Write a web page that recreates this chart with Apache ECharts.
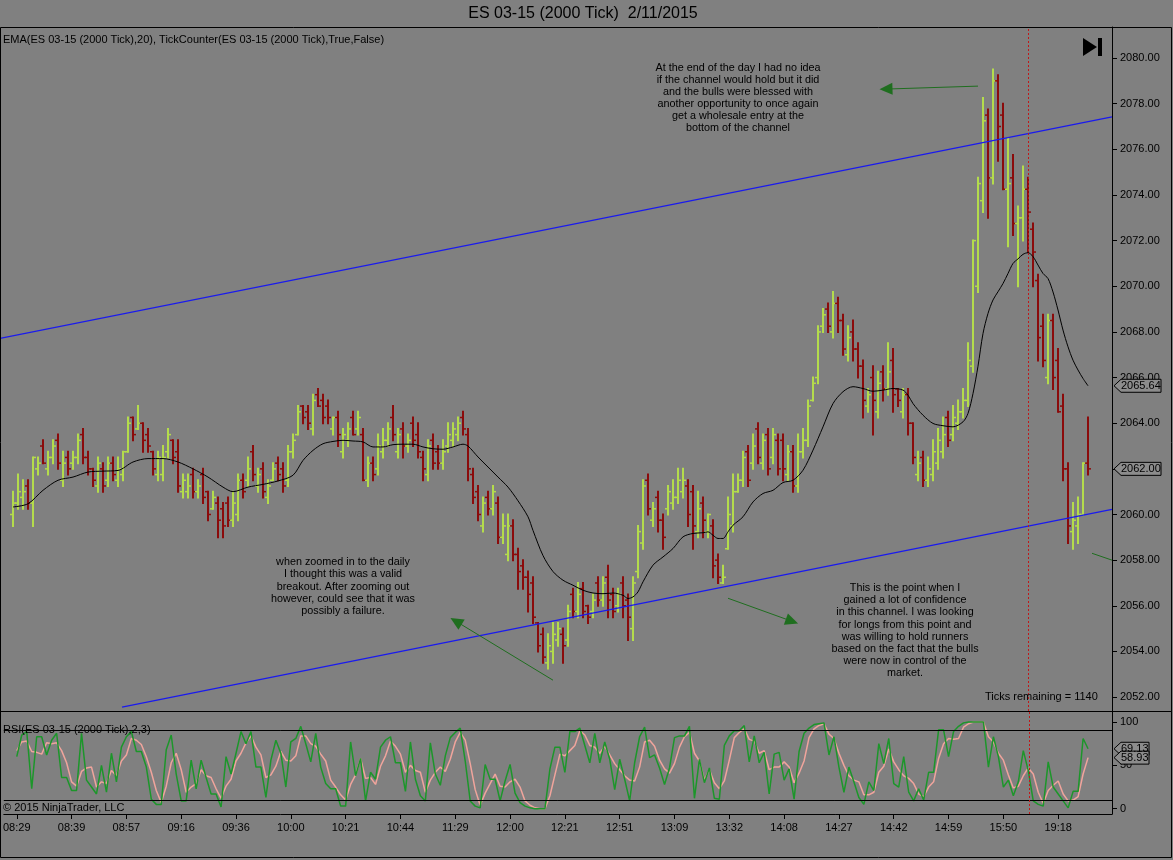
<!DOCTYPE html>
<html>
<head>
<meta charset="utf-8">
<title>ES 03-15 (2000 Tick) 2/11/2015</title>
<script src="https://cdn.jsdelivr.net/npm/echarts@6.0.0/dist/echarts.min.js"></script>
<style>
  html, body { margin: 0; padding: 0; background: #808080; }
  #chart { width: 1173px; height: 860px; }
</style>
</head>
<body>
<div id="chart"></div>
<script>
// ---- data (bar index = position in the session) ----
var opens = [
  2060,2060.5,2060.75,2061.25,2060.5,2062,2063,2062,2062.5,2063.25,
  2061.5,2062.5,2062.25,2062.5,2063.5,2062.5,2062,2061.25,2062,2061.5,
  2062.25,2061.5,2061.75,2062.75,2064.25,2063.75,2064,2063.5,2062.75,2061.75,
  2061.75,2062.75,2063.25,2062.75,2061,2061,2061.75,2061,2061.75,2061,
  2060.25,2060.5,2060.25,2060.5,2059.75,2060,2061.5,2061.5,2062.75,2061.25,
  2062,2060.75,2061.5,2062.25,2062,2061.5,2062.75,2063.5,2064.75,2064.5,
  2063.75,2065.25,2065,2064.75,2063.75,2064.25,2062.75,2063.25,2064.25,2063.75,
  2063.5,2061.5,2062.25,2062,2062.75,2063.25,2064.25,2062.75,2063.75,2063,
  2064,2063.5,2062.5,2061.75,2063.25,2062.75,2062.25,2063,2063.25,2063.5,
  2064.25,2063.5,2061.75,2061,2059.5,2060.75,2060.25,2060.5,2059,2058.25,
  2059.5,2058.25,2057.75,2057.25,2057,2055.25,2054.75,2053.5,2054,2054.5,
  2054.75,2054.5,2056.5,2055.75,2056.75,2056,2055.75,2057,2056.25,2057.25,
  2056.5,2056,2057,2056.25,2055,2057.5,2058.75,2061.5,2059.75,2060.75,
  2059.75,2060.25,2060.5,2060.75,2061,2061.25,2061,2059.25,2060.5,2059.25,
  2059.5,2058,2057,2058.5,2059.5,2061,2061.5,2062.75,2062.25,2063.75,
  2062.25,2063.5,2062.5,2063.25,2063.25,2061.75,2062.75,2061.25,2062.75,2063.25,
  2065,2066,2068.25,2069,2068,2069.25,2068.5,2067,2068,2067.25,
  2066.5,2064.75,2066,2064.5,2066.25,2065.5,2066.75,2065.5,2064.5,2065.25,
  2064,2061.75,2062.5,2061.5,2061.75,2062.25,2062.75,2064.25,2063.5,2064,
  2064.5,2065,2066.5,2070,2073.75,2077.5,2074.75,2079,2077.5,2074.25,
  2074.75,2072.75,2073,2074.25,2072.5,2070.25,2068.25,2066,2068.5,2066.75,
  2064.75,2062,2059.25,2059.5,2060,2062.25
];
var highs = [
  2061,2061.75,2061.5,2061.5,2062.5,2062.5,2063.25,2062.75,2063.25,2063.5,
  2062.75,2062.75,2062.75,2063.5,2063.75,2062.75,2062,2062.5,2062.25,2062.5,
  2062.5,2062.5,2062.75,2064.25,2064.25,2064.75,2064,2063.75,2062.75,2062.75,
  2063,2063.75,2063.25,2063.25,2061.75,2061.75,2062,2061.5,2062,2061,
  2061,2060.75,2060.5,2060.75,2061,2061.75,2061.75,2062.5,2063,2062,
  2062.25,2061.5,2062.25,2062.5,2062.25,2063,2063.5,2064.75,2064.75,2064.75,
  2065.25,2065.5,2065.25,2065,2064.25,2064.5,2063.75,2064,2064.5,2064.5,
  2063.75,2062.5,2062.5,2063.5,2063.75,2064,2064.75,2063.75,2064,2063.5,
  2064.25,2064,2062.75,2063.25,2063.5,2063,2063.25,2064,2064,2064.25,
  2064.5,2063.75,2062,2061.25,2060.75,2061,2061.25,2060.75,2060,2060,
  2059.75,2058.5,2058,2057.5,2057.25,2055.25,2055,2054.75,2055.25,2055.25,
  2055,2056,2056.75,2057,2057,2056,2056.5,2057.25,2057.25,2057.75,
  2056.75,2056.75,2057.25,2056.5,2057.25,2059.5,2061.5,2061.75,2060.5,2061,
  2060,2061.25,2061.5,2062,2062,2061.5,2061.25,2061,2060.75,2060,
  2059.75,2058.25,2057.75,2060.75,2061.75,2061.75,2062.75,2063,2063.5,2064,
  2063.5,2063.75,2063.75,2063.5,2063.5,2063,2063,2063.5,2063.75,2065,
  2066,2068.25,2069,2069.25,2069.75,2069.5,2068.75,2068.25,2068.5,2067.5,
  2066.75,2065.5,2066.5,2066.25,2066.5,2067.5,2067.25,2065.5,2065.5,2065.5,
  2064,2062.75,2062.75,2062.5,2063.25,2063.75,2064.25,2064.5,2064.75,2065,
  2065.5,2067.5,2072,2074.75,2078.25,2077.75,2079.5,2079.25,2078,2076.5,
  2075.75,2073.5,2075.25,2074.75,2072.75,2070.5,2068.75,2068.75,2068.75,2067.25,
  2065.25,2062.25,2060.5,2060.75,2062.25,2064.25
];
var lows = [
  2059.5,2060.25,2060.25,2060.25,2059.5,2061.75,2062.25,2061.75,2062.25,2062,
  2061.25,2061.75,2062,2062.25,2062.25,2061.75,2061.25,2061,2061,2061.25,
  2061.5,2061.25,2061.5,2062.75,2063.25,2063.75,2062.75,2062.75,2061.75,2061.5,
  2061.5,2062.5,2062.25,2061,2060.75,2060.75,2060.75,2060.75,2060.5,2059.75,
  2060.25,2059,2059,2059.5,2059.5,2059.75,2060.75,2061.25,2061.5,2061,
  2060.75,2060.5,2061.5,2061.5,2061,2061.25,2062.5,2063.5,2064,2063.75,
  2063.5,2064.75,2064,2064,2063.5,2063,2062.5,2063,2063.5,2063.5,
  2061.5,2061.25,2061.5,2061.75,2062.5,2063,2063.25,2062.5,2062.5,2062.75,
  2063,2062.5,2061.5,2061.5,2062,2062,2062,2062.75,2063,2063.25,
  2063.5,2061.5,2060.5,2059.75,2059.25,2060,2060,2058.75,2058.75,2058,
  2058,2056.75,2056.75,2055.75,2055.25,2054,2053.5,2053.25,2053.5,2054.25,
  2053.5,2054.25,2055.5,2055.5,2055.5,2055.25,2055.5,2056,2056,2055.5,
  2055.5,2055.75,2055.5,2054.5,2054.5,2057.25,2058.5,2060,2059.5,2059.25,
  2058.5,2060,2060.25,2060.5,2060.75,2059.5,2058.5,2059,2059,2059,
  2057.25,2057,2057,2058.5,2059.25,2061,2061.25,2061.25,2062,2062.25,
  2062,2061.75,2062.25,2061.75,2061.5,2061.5,2061,2061,2062.5,2063,
  2065,2065.75,2068,2068,2067.75,2068,2067,2066.75,2066.75,2066,
  2064.25,2064.5,2063.5,2064.25,2065,2065.25,2064.5,2064.75,2064.25,2063.5,
  2062.25,2061.5,2061.25,2061.25,2061.5,2062,2062.5,2063,2063.25,2063.75,
  2064.25,2064.75,2066.25,2069.75,2073.25,2073,2074.5,2075.5,2074.25,2071.75,
  2072.25,2070,2072,2071.5,2070,2066.75,2066.5,2065.75,2065.5,2064.5,
  2061.5,2058.75,2058.5,2058.75,2060,2061.75
];
var closes = [
  2060.5,2061,2061,2060.5,2062.5,2062.25,2062.25,2062.5,2063,2062.25,
  2062.25,2062,2062.5,2063.25,2062.5,2062,2061.5,2062.25,2061.25,2062.25,
  2061.75,2062,2062.75,2064,2063.5,2064,2063.25,2063,2062,2062.5,
  2062.5,2063.5,2062.5,2061.25,2061.5,2061.25,2061,2061.25,2060.75,2060,
  2060.75,2059.75,2059.5,2059.75,2060.5,2061.5,2061,2062,2061.75,2061.75,
  2061,2061.25,2062,2061.75,2061.25,2062.75,2063.25,2064.5,2064.25,2064,
  2065,2064.75,2064.25,2064.25,2064.25,2063.5,2063.5,2063.75,2063.5,2064.25,
  2061.5,2062.25,2061.75,2063,2063.25,2063.75,2063.5,2063.5,2063,2063.25,
  2063.25,2062.75,2062,2063,2062.25,2062.25,2062.75,2063.5,2063.75,2064,
  2063.75,2062,2060.75,2060,2060.5,2060.25,2061,2059,2059.5,2059.5,
  2058.25,2057.5,2057.25,2056.5,2055.5,2054.25,2053.75,2054.25,2054.75,2055,
  2054.25,2055.75,2055.75,2056.5,2055.75,2055.5,2056.25,2056.25,2057,2056.25,
  2055.75,2056.5,2056,2055.5,2057,2059.25,2061.25,2060.25,2060.25,2059.75,
  2059,2061,2060.75,2061.5,2061.5,2060,2059.5,2060.25,2059.75,2060,
  2057.75,2057.25,2057.25,2060,2061,2061.5,2062.5,2061.5,2063,2062.5,
  2063.25,2062,2063.5,2062,2062,2062.75,2061.25,2062.75,2063.25,2064.75,
  2065.75,2068,2068.75,2068.25,2069.25,2068.5,2067.25,2067.75,2067.25,2066.5,
  2065,2065.25,2065,2065.75,2065.5,2066.25,2065.25,2065,2065.25,2064,
  2062.5,2062.25,2061.5,2062,2062.75,2063.25,2063.5,2063.25,2064.25,2064.5,
  2065,2066.75,2072,2074.5,2077.25,2074.75,2079,2077,2074.25,2074.5,
  2072.75,2073,2074.25,2073.25,2071.5,2067.75,2066.75,2068.5,2066,2064.5,
  2062,2059.5,2059.75,2060,2062.25,2062
];
// EMA(20) read at selected bars: [bar, price]
var ema = [
  [0,2060.33],[3,2060.47],[6,2061.06],[9,2061.5],[12,2061.64],[15,2061.86],[18,2061.9],[21,2061.93],
  [24,2062.3],[27,2062.45],[30,2062.45],[33,2062.3],[36,2062.0],[39,2061.64],[42,2061.2],[44,2061.0],
  [47,2061.2],[50,2061.32],[53,2061.47],[56,2061.72],[58,2062.37],[60,2062.81],[62,2063.1],[64,2063.2],
  [66,2063.25],[68,2063.22],[70,2063.18],[72,2062.96],[74,2062.96],[76,2063.06],[78,2063.08],[80,2063.08],
  [82,2062.96],[84,2062.88],[86,2062.86],[88,2062.96],[90,2063.08],[91,2063.0],[93,2062.52],[95,2062.08],
  [97,2061.64],[99,2061.2],[101,2060.6],[103,2059.9],[104,2059.3],[106,2058.2],[108,2057.5],[110,2057.12],
  [112,2056.9],[114,2056.68],[116,2056.56],[118,2056.53],[120,2056.56],[122,2056.46],[123,2056.32],[124,2056.39],
  [125,2056.61],[126,2057.05],[128,2057.78],[130,2058.14],[132,2058.51],[134,2059.02],[136,2059.17],[138,2059.2],
  [139,2059.24],[140,2059.09],[141,2058.95],[142,2058.95],[143,2059.24],[144,2059.53],[146,2059.9],[148,2060.55],
  [150,2060.92],[152,2061.06],[154,2061.4],[156,2061.5],[158,2061.94],[160,2062.82],[162,2063.84],[164,2064.86],
  [166,2065.38],[168,2065.6],[170,2065.52],[172,2065.4],[174,2065.45],[176,2065.52],[178,2065.45],[179,2065.23],
  [180,2064.86],[182,2064.35],[184,2063.99],[186,2063.89],[188,2063.84],[190,2064.06],[191,2064.43],[192,2065.3],
  [193,2066.5],[194,2067.93],[195,2068.81],[196,2069.4],[197,2069.76],[198,2070.12],[199,2070.56],[200,2071.0],
  [201,2071.2],[202,2071.4],[203,2071.47],[204,2071.3],[205,2070.93],[206,2070.56],[207,2070.34],[208,2069.75],
  [209,2068.96],[210,2068.08],[211,2067.35],[212,2066.76],[213,2066.33],[214,2065.96],[215,2065.64]
];
// RSI(2,3) per bar and its smoothing
var rsi = [
  60,85,89,23,83,83,62,79,87,36, 36,21,21,87,33,25,17,50,19,64,
  31,71,83,89,66,66,48,11,5,5, 68,85,40,9,9,56,23,56,36,17,
  17,2,60,40,64,89,75,89,48,48, 13,56,79,64,25,77,81,95,75,54,
  87,48,29,23,23,3,3,77,38,58, 9,42,34,71,79,83,53,53,20,77,
  34,15,9,76,40,27,61,82,88,93, 55,9,3,1,51,34,34,9,32,51,
  18,7,3,1,0,0,0,46,71,71, 42,89,89,93,73,53,87,53,77,57,
  22,57,34,9,53,83,94,59,62,47, 28,47,82,84,84,95,12,57,30,47,
  12,11,73,84,90,90,96,54,84,53, 65,17,63,65,33,46,11,66,87,93,
  97,98,99,62,83,48,19,48,31,13, 5,31,21,75,52,81,29,25,60,19,
  9,23,10,42,42,91,91,60,89,95, 99,100,100,100,100,48,83,60,25,33,
  15,31,67,44,9,5,3,54,25,17, 9,1,20,20,81,69.13
];
var rsiAvg = [
  67,77,78,66,65,63,76,75,76,67, 53,31,26,43,47,48,25,31,29,44,
  38,55,62,81,79,74,60,42,21,7, 26,53,64,45,19,25,29,45,38,36,
  23,12,26,34,55,64,76,84,71,62, 36,39,49,66,56,55,61,84,84,75,
  72,63,55,33,25,16,10,28,39,58, 35,36,28,49,61,78,72,63,42,50,
  44,42,19,33,42,48,43,57,77,88, 79,52,22,4,18,29,40,26,25,31,
  34,25,9,4,1,0,0,15,39,63, 61,67,73,90,85,73,71,64,72,62,
  52,45,38,33,32,48,77,79,72,56, 46,41,52,71,83,88,64,55,33,45,
  30,23,32,56,82,88,92,80,78,64, 67,45,48,48,54,48,30,41,55,82,
  92,96,98,86,81,64,50,38,33,31, 16,16,19,42,49,69,54,45,38,35,
  29,17,14,25,31,58,75,81,80,81, 94,98,100,100,100,83,77,64,56,39,
  24,26,38,47,40,19,6,21,27,32, 17,9,10,14,40,58.93
];
// hand-drawn channel lines and arrows, endpoints as [bar, price]
var upperChannel = [[-2.6, 2067.72], [219.8, 2077.42]];
var lowerChannel = [[21.8, 2051.56], [219.8, 2060.22]];
var arrows = [
  [[193, 2078.77], [174.6, 2078.64]],
  [[108, 2052.74], [88.6, 2055.32]],
  [[143, 2056.33], [155.8, 2055.32]]
];
var arrowStub = [[215.8, 2058.3], [219.8, 2058.0]];
var sessionBreak = 203.1;

var timeLabels = ['08:29','08:39','08:57','09:16','09:36','10:00','10:21','10:44','11:29','12:00',
                  '12:21','12:51','13:09','13:32','14:08','14:27','14:42','14:59','15:50','19:18'];
var timeBars = [0,11,22,33,44,55,66,77,88,99,110,121,132,143,154,165,176,187,198,209];
var priceTicks = [2052,2054,2056,2058,2060,2062,2064,2066,2068,2070,2072,2074,2076,2078,2080];
var rsiTicks = [0, 50, 100];
var rsiBands = [10, 90];

var upColor = '#b4dc4c', downColor = '#8b0b0b';
var font = '"Liberation Sans", Arial, sans-serif';

var bars = opens.map(function (o, i) { return [i, o, highs[i], lows[i], closes[i]]; });

function renderBar(params, api) {
  var i = api.value(0);
  var o = api.value(1), h = api.value(2), l = api.value(3), c = api.value(4);
  var pt = api.coord([i, h]), pb = api.coord([i, l]);
  var po = api.coord([i, o]), pc = api.coord([i, c]);
  var col = c >= o ? upColor : downColor;
  var x = Math.round(pt[0]);
  return {
    type: 'group',
    children: [
      { type: 'line', shape: { x1: x, y1: pt[1] - 1, x2: x, y2: pb[1] + 1 }, style: { stroke: col, lineWidth: 2 } },
      { type: 'line', shape: { x1: x - 3, y1: po[1], x2: x, y2: po[1] }, style: { stroke: col, lineWidth: 1.5 } },
      { type: 'line', shape: { x1: x, y1: pc[1], x2: x + 3, y2: pc[1] }, style: { stroke: col, lineWidth: 1.5 } }
    ]
  };
}

var chart = echarts.init(document.getElementById('chart'));

var option = {
  animation: false,
  backgroundColor: '#808080',
  textStyle: { fontFamily: font },
  grid: [
    { left: 0, top: 27, width: 1112, height: 684 },
    { left: 0, top: 711, width: 1112, height: 103 }
  ],
  xAxis: [
    { type: 'value', gridIndex: 0, min: -2.6, max: 219.8, show: false },
    {
      type: 'value', gridIndex: 1, min: -2.6, max: 219.8,
      axisLine: { show: true, onZero: false, lineStyle: { color: '#000', width: 1 } },
      axisTick: { show: true, customValues: timeBars, length: 5, lineStyle: { color: '#000' } },
      axisLabel: {
        customValues: timeBars, color: '#000', fontSize: 11, margin: 8,
        formatter: function (v) { return timeLabels[timeBars.indexOf(Math.round(v))] || ''; }
      },
      splitLine: { show: false }
    }
  ],
  yAxis: [
    {
      type: 'value', gridIndex: 0, position: 'right', min: 2051.39, max: 2081.36,
      axisLine: { show: true, onZero: false, lineStyle: { color: '#000', width: 1 } },
      axisTick: { show: true, customValues: priceTicks, length: 5, lineStyle: { color: '#000' } },
      axisLabel: {
        customValues: priceTicks, color: '#000', fontSize: 11, margin: 8,
        formatter: function (v) { return v.toFixed(2); }
      },
      splitLine: { show: false }
    },
    {
      type: 'value', gridIndex: 1, position: 'right', min: -6.1, max: 112.7,
      axisLine: { show: true, onZero: false, lineStyle: { color: '#000', width: 1 } },
      axisTick: { show: true, customValues: rsiTicks, length: 5, lineStyle: { color: '#000' } },
      axisLabel: { customValues: rsiTicks, color: '#000', fontSize: 11, margin: 8 },
      splitLine: { show: false }
    }
  ],
  series: [
    {
      type: 'line', name: 'upper', xAxisIndex: 0, yAxisIndex: 0, data: upperChannel,
      symbol: 'none', lineStyle: { color: '#1a1aee', width: 1.3 }, silent: true
    },
    {
      type: 'line', name: 'lower', xAxisIndex: 0, yAxisIndex: 0, data: lowerChannel,
      symbol: 'none', lineStyle: { color: '#1a1aee', width: 1.3 }, silent: true,
      markLine: {
        silent: true, symbol: ['none', 'triangle'], symbolSize: [12, 13],
        label: { show: false },
        lineStyle: { color: '#1f6e1f', width: 1, type: 'solid' },
        data: arrows.map(function (a) { return [{ coord: a[0] }, { coord: a[1] }]; })
          .concat([[{ coord: arrowStub[0], symbol: 'none' }, { coord: arrowStub[1], symbol: 'none' }]])
      }
    },
    {
      type: 'custom', name: 'bars', xAxisIndex: 0, yAxisIndex: 0,
      renderItem: renderBar, data: bars, encode: { x: 0, y: [1, 2, 3, 4] }, silent: true,
      markLine: {
        silent: true, symbol: 'none', label: { show: false },
        lineStyle: { color: '#c01818', width: 1, type: [2, 2] },
        data: [{ xAxis: sessionBreak }]
      }
    },
    {
      type: 'line', name: 'EMA', xAxisIndex: 0, yAxisIndex: 0, data: ema,
      symbol: 'none', smooth: 0.3, lineStyle: { color: '#000', width: 1 }, silent: true
    },
    {
      type: 'line', name: 'RSIavg', xAxisIndex: 1, yAxisIndex: 1,
      data: rsiAvg.map(function (v, i) { return [i, v]; }),
      symbol: 'none', lineStyle: { color: '#f0a49c', width: 1.5 }, silent: true
    },
    {
      type: 'line', name: 'RSI', xAxisIndex: 1, yAxisIndex: 1,
      data: rsi.map(function (v, i) { return [i, v]; }),
      symbol: 'none', lineStyle: { color: '#1c962a', width: 1.5 }, silent: true,
      markLine: {
        silent: true, symbol: 'none', label: { show: false },
        data: rsiBands.map(function (b) { return { yAxis: b, lineStyle: { color: '#000', width: 1, type: 'solid' } }; })
          .concat([{ xAxis: sessionBreak, lineStyle: { color: '#c01818', width: 1, type: [2, 2] } }])
      }
    }
  ],
  graphic: []
};

chart.setOption(option);

function valueBox(y, text, right) {
  return {
    type: 'group', z: 100,
    children: [
      { type: 'polygon', z: 100, shape: { points: [[1114, y], [1121, y - 6.5], [right, y - 6.5], [right, y + 6.5], [1121, y + 6.5]] },
        style: { fill: '#8c8c8c', stroke: '#000', lineWidth: 1 } },
      { type: 'text', z: 101, x: 1121, y: y, style: { text: text, fill: '#000', font: '11px ' + font, textVerticalAlign: 'middle' } }
    ]
  };
}

function label(x, y, text, size, align, lh) {
  return {
    type: 'text', x: x, y: y, z: 50,
    style: {
      text: text, fill: '#000', font: size + 'px ' + font,
      textAlign: align || 'left', textVerticalAlign: 'top', lineHeight: lh || size + 2
    }
  };
}

var lastEma = ema[ema.length - 1][1];
var lastClose = closes[closes.length - 1];
var lastRsi = rsi[rsi.length - 1];
var lastAvg = rsiAvg[rsiAvg.length - 1];

var graphics = [
  { type: 'rect', z: 90, shape: { x: 0.5, y: 27.5, width: 1171, height: 830 }, style: { fill: 'none', stroke: '#000', lineWidth: 1 } },
  { type: 'line', z: 90, shape: { x1: 0, y1: 711.5, x2: 1172, y2: 711.5 }, style: { stroke: '#000', lineWidth: 1 } },
  { type: 'polygon', z: 90, shape: { points: [[1083, 38], [1083, 56], [1097, 47]] }, style: { fill: '#000' } },
  { type: 'rect', z: 90, shape: { x: 1098, y: 38, width: 4, height: 18 }, style: { fill: '#000' } },
  label(583, 5, 'ES 03-15 (2000 Tick)  2/11/2015', 16, 'center'),
  label(3, 33, 'EMA(ES 03-15 (2000 Tick),20), TickCounter(ES 03-15 (2000 Tick),True,False)', 11),
  label(3, 723, 'RSI(ES 03-15 (2000 Tick),2,3)', 11),
  label(3, 801, '\u00a9 2015 NinjaTrader, LLC', 11),
  label(985, 690, 'Ticks remaining = 1140', 11),
  label(738, 62, 'At the end of the day I had no idea\nif the channel would hold but it did\nand the bulls were blessed with\nanother opportunity to once again\nget a wholesale entry at the\nbottom of the channel', 10.8, 'center', 12),
  label(343, 556, 'when zoomed in to the daily\nI thought this was a valid\nbreakout. After zooming out\nhowever, could see that it was\npossibly a failure.', 10.8, 'center', 12.3),
  label(905, 582, 'This is the point when I\ngained a lot of confidence\nin this channel. I was looking\nfor longs from this point and\nwas willing to hold runners\nbased on the fact that the bulls\nwere now in control of the\nmarket.', 10.8, 'center', 12.2),
  valueBox(chart.convertToPixel({ yAxisIndex: 0 }, lastEma), lastEma.toFixed(2), 1161),
  valueBox(chart.convertToPixel({ yAxisIndex: 0 }, lastClose), lastClose.toFixed(2), 1161),
  valueBox(chart.convertToPixel({ yAxisIndex: 1 }, lastRsi), lastRsi.toFixed(2), 1149),
  valueBox(chart.convertToPixel({ yAxisIndex: 1 }, lastAvg), lastAvg.toFixed(2), 1149)
];

chart.setOption({ graphic: graphics });
</script>
</body>
</html>
